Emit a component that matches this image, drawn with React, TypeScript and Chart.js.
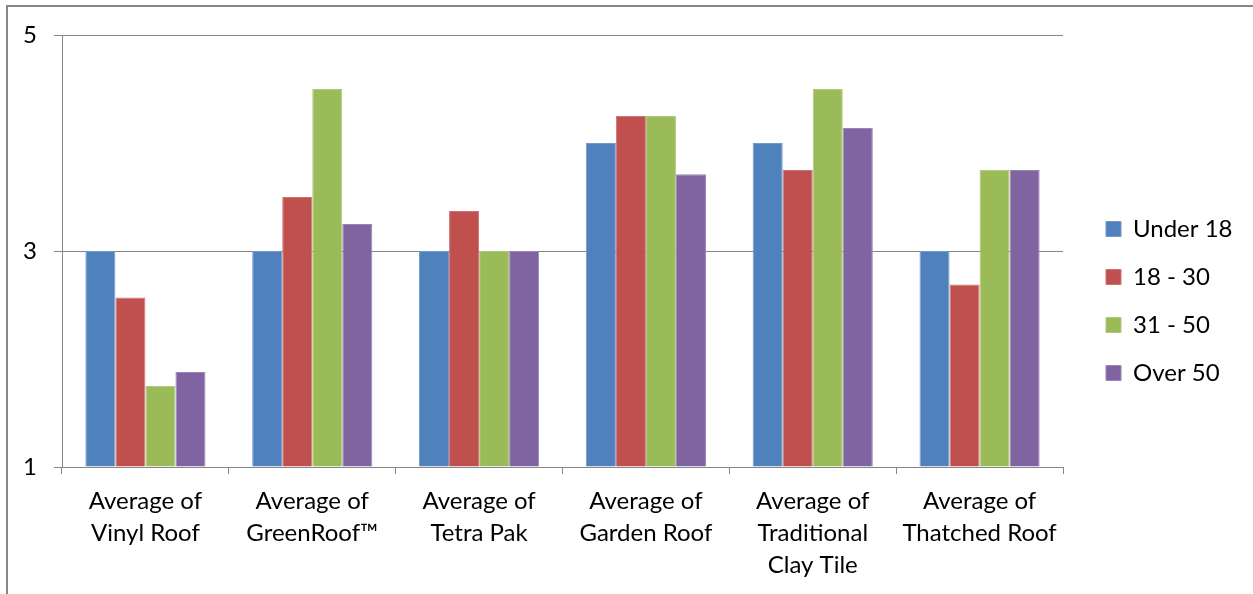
import React, { useEffect, useRef } from "react";
import { Chart, registerables } from "chart.js";

Chart.register(...registerables);

const categories: string[][] = [
  ["Average of", "Vinyl Roof"],
  ["Average of", "GreenRoof™"],
  ["Average of", "Tetra Pak"],
  ["Average of", "Garden Roof"],
  ["Average of", "Traditional", "Clay Tile"],
  ["Average of", "Thatched Roof"],
];

const seriesNames = ["Under 18", "18 - 30", "31 - 50", "Over 50"];
const under18 = [3, 3, 3, 4, 4, 3];
const age18to30 = [2.57, 3.5, 3.37, 4.25, 3.75, 2.69];
const age31to50 = [1.75, 4.5, 3, 4.25, 4.5, 3.75];
const over50 = [1.88, 3.25, 3, 3.71, 4.14, 3.75];
const yTicks = [1, 3, 5];

const fills = ["#4F81BD", "#C0504D", "#9BBB59", "#8064A2"];
const borders = ["#7397C9", "#CC7371", "#AFC97E", "#9A84B6"];

const FONT = "Lato";
const FS = 24;

export default function App() {
  const ref = useRef<HTMLCanvasElement | null>(null);

  useEffect(() => {
    if (!ref.current) return;
    const m = document.createElement("canvas").getContext("2d")!;
    m.font = `${FS}px ${FONT}`;
    const textW = Math.max(...seriesNames.map((s) => m.measureText(s).width));
    const legendW = 24 + 15 + FS / 2 + textW + 10;
    const padRight = Math.max(0, 171 - legendW);

    const data = [under18, age18to30, age31to50, over50];
    const chart = new Chart(ref.current, {
      type: "bar",
      data: {
        labels: categories,
        datasets: data.map((d, i) => ({
          label: seriesNames[i],
          data: d,
          backgroundColor: fills[i],
          borderColor: borders[i],
          borderWidth: 1,
          base: 1,
          categoryPercentage: 0.72,
          barPercentage: 1,
          yAxisID: "y",
          xAxisID: "x",
        })),
      },
      options: {
        animation: false,
        responsive: false,
        maintainAspectRatio: false,
        layout: { padding: { top: 8, left: 0, right: padRight, bottom: 0 } },
        plugins: {
          tooltip: { enabled: false },
          legend: {
            position: "right",
            labels: {
              boxWidth: 15,
              boxHeight: 15,
              padding: 24,
              color: "#000",
              font: { family: FONT, size: FS },
            },
          },
        },
        scales: {
          x: {
            position: "bottom",
            grid: {
              display: true,
              drawOnChartArea: false,
              drawTicks: true,
              tickLength: 7,
              color: "#868686",
              offset: true,
            },
            border: { display: true, color: "#868686", width: 1 },
            ticks: {
              autoSkip: false,
              maxRotation: 0,
              minRotation: 0,
              padding: 11,
              color: "#000",
              font: { family: FONT, size: FS, lineHeight: 1.333 },
            },
            afterFit: (s: any) => {
              s.height = 127;
            },
          },
          gapTop: {
            type: "category",
            position: "top",
            display: true,
            grid: { display: false },
            border: { display: false },
            ticks: { display: false },
            afterFit: (s: any) => {
              s.height = 27;
            },
          },
          y: {
            min: 1,
            max: 5,
            afterBuildTicks: (s: any) => {
              s.ticks = yTicks.map((v) => ({ value: v }));
            },
            grid: {
              color: "#868686",
              tickLength: 8,
              lineWidth: 1,
            },
            border: { display: true, color: "#868686", width: 1 },
            ticks: {
              padding: 17,
              color: "#000",
              font: { family: FONT, size: FS },
            },
            afterFit: (s: any) => {
              s.width = 62;
            },
          },
          gap: {
            position: "right",
            display: true,
            grid: { display: false },
            border: { display: false },
            ticks: { display: false },
            afterFit: (s: any) => {
              s.width = 19;
            },
          },
        },
      } as any,
    });
    return () => chart.destroy();
  }, []);

  return (
    <div style={{ position: "absolute", left: 0, top: 0, width: 1253, height: 594, background: "#fff", overflow: "hidden" }}>
      <canvas ref={ref} width={1253} height={594} style={{ position: "absolute", left: 0, top: 0, width: 1253, height: 594 }} />
      <div
        style={{
          position: "absolute",
          left: 6,
          top: 5,
          width: 1247,
          height: 589,
          borderTop: "2px solid #868686",
          borderLeft: "2px solid #868686",
          boxSizing: "border-box",
          pointerEvents: "none",
        }}
      />
    </div>
  );
}
